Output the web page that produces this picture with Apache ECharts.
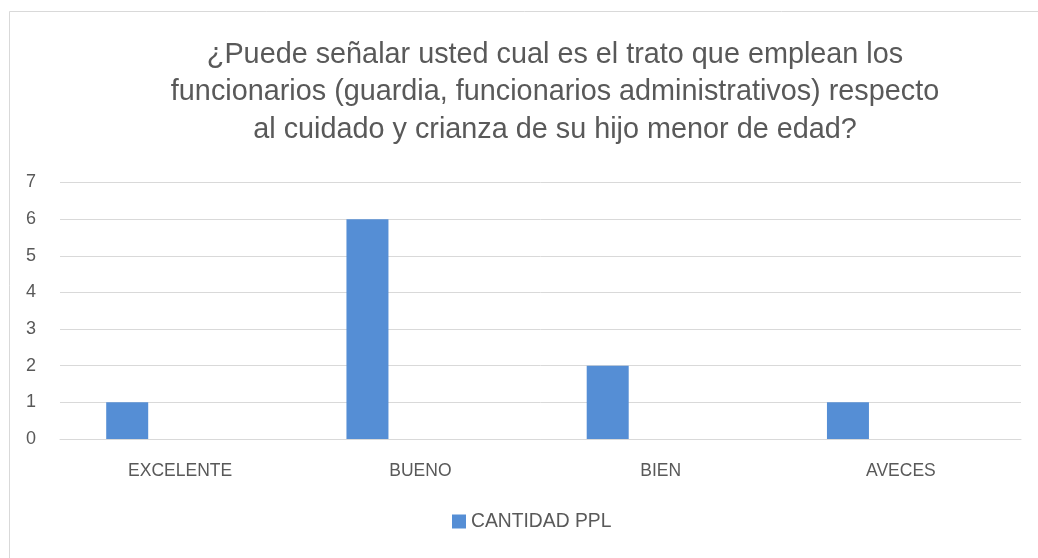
<!DOCTYPE html>
<html>
<head>
<meta charset="utf-8">
<script src="https://cdn.jsdelivr.net/npm/echarts@6/dist/echarts.min.js"></script>
<style>html,body{margin:0;padding:0;background:#fff}#c{width:1038px;height:558px}</style>
</head>
<body>
<div id="c"></div>
<script>
const titleText = "¿Puede señalar usted cual es el trato que emplean los\nfuncionarios (guardia, funcionarios administrativos) respecto\nal cuidado y crianza de su hijo menor de edad?";
const categories = ["EXCELENTE", "BUENO", "BIEN", "AVECES"];
const seriesName = "CANTIDAD PPL";
const values = [1, 6, 2, 1];
const emptySeries = [null, null, null, null];
const yMin = 0, yMax = 7, yStep = 1;

const font = "'Liberation Sans', sans-serif";
const chart = echarts.init(document.getElementById('c'), null, {renderer: 'canvas'});
chart.setOption({
  animation: false,
  backgroundColor: '#ffffff',
  graphic: [{
    type: 'rect', silent: true, z: -1,
    shape: {x: 9.5, y: 11.5, width: 1200, height: 700},
    style: {fill: 'none', stroke: '#d9d9d9', lineWidth: 1}
  }],
  title: {
    text: titleText,
    left: 550, textAlign: 'center', top: 31,
    textStyle: {fontFamily: font, fontSize: 28.8, fontWeight: 'normal', color: '#595959', lineHeight: 37.5}
  },
  legend: {
    data: [seriesName],
    bottom: 22, left: 447,
    itemWidth: 14, itemHeight: 14, itemGap: 6,
    icon: 'rect',
    textStyle: {fontFamily: font, fontSize: 19.3, color: '#595959'}
  },
  grid: {left: 60, right: 17, top: 182.5, bottom: 119, containLabel: false},
  xAxis: {
    type: 'category', data: categories,
    axisLine: {show: true, lineStyle: {color: '#d9d9d9', width: 1}},
    axisTick: {show: false},
    axisLabel: {fontFamily: font, fontSize: 17.5, color: '#595959', margin: 23}
  },
  yAxis: {
    type: 'value', min: yMin, max: yMax, interval: yStep,
    axisLine: {show: false}, axisTick: {show: false},
    splitLine: {lineStyle: {color: '#d9d9d9', width: 1}},
    axisLabel: {fontFamily: font, fontSize: 18, color: '#595959', margin: 24}
  },
  series: [
    {name: seriesName, type: 'bar', data: values, barWidth: 42, barGap: '152%',
     itemStyle: {color: '#558ed5'}},
    {name: 'vacío', type: 'bar', data: emptySeries, barWidth: 42,
     itemStyle: {color: '#558ed5'}}
  ]
});
</script>
</body>
</html>
